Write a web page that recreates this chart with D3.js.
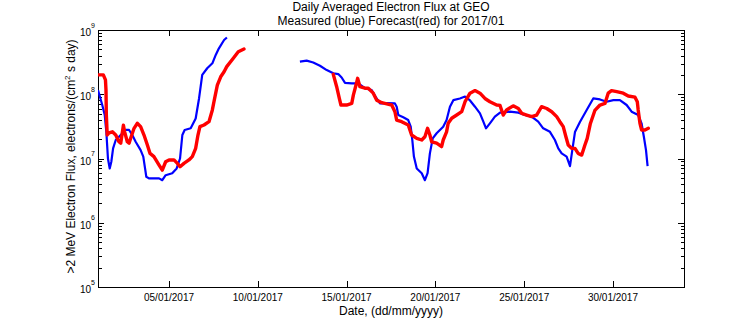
<!DOCTYPE html>
<html><head><meta charset="utf-8">
<script src="https://cdn.jsdelivr.net/npm/d3@7"></script>
<style>
html,body{margin:0;padding:0;background:#fff;}
svg{display:block;}
text{font-family:"Liberation Sans",Arial,Helvetica,sans-serif;fill:#000;}
</style></head><body>
<svg id="chart" width="756" height="324"></svg>
<script>
const titleLines = ["Daily Averaged Electron Flux at GEO", "Measured (blue) Forecast(red) for 2017/01"];
const xLabel = "Date, (dd/mm/yyyy)";
const yLabelMain = ">2 MeV Electron Flux, electrons/(cm";
const yLabelSup = "2";
const yLabelTail = " s day)";
const xTickDays = [5, 10, 15, 20, 25, 30];
const xTickLabels = ["05/01/2017", "10/01/2017", "15/01/2017", "20/01/2017", "25/01/2017", "30/01/2017"];
const yDecadeExps = [5, 6, 7, 8, 9];

// measured (blue): day of January 2017 (fractional) and flux; null = no data
const blueDay = [1.00,1.24,1.38,1.47,1.56,1.66,1.75,1.85,2.00,2.28,2.56,2.75,2.93,3.12,3.40,3.55,3.65,3.72,3.87,4.44,4.62,4.81,5.18,5.43,5.62,5.75,5.88,6.22,6.50,6.69,6.87,7.15,7.44,7.63,7.81,8.10,8.26,
  10.0,
  12.37,12.75,13.12,13.50,13.88,14.25,14.53,14.72,14.91,15.29,15.66,16.03,16.41,16.69,16.88,17.26,17.72,17.82,17.91,18.19,18.47,18.61,18.70,18.79,18.95,19.23,19.41,19.56,19.69,19.85,20.07,20.44,20.63,20.82,21.01,21.38,21.67,21.95,22.23,22.51,22.70,22.85,23.07,23.35,23.64,24.20,24.67,25.04,25.42,25.79,26.07,26.45,26.73,26.92,27.11,27.39,27.58,27.71,27.86,28.14,28.52,28.89,29.27,29.64,30.02,30.39,30.77,31.05,31.42,31.61,31.74,31.86,31.95];
const blueFlux = [1.16e8,6.8e7,4.75e7,2.6e7,1.0e7,7.0e6,8.9e6,1.44e7,1.94e7,2.32e7,2.78e7,2.78e7,2.32e7,1.82e7,1.35e7,1.07e7,7.0e6,5.2e6,4.9e6,4.9e6,4.6e6,5.5e6,5.9e6,7.0e6,1.0e7,2.32e7,2.78e7,2.95e7,4.2e7,8.6e7,2.0e8,2.54e8,3.03e8,4.09e8,5.19e8,6.98e8,7.65e8,
  null,
  3.21e8,3.33e8,3.12e8,2.78e8,2.38e8,2.12e8,2.06e8,1.82e8,1.50e8,1.48e8,1.48e8,1.24e8,1.16e8,8.6e7,7.2e7,7.3e7,7.2e7,6.4e7,4.75e7,4.38e7,3.97e7,3.13e7,1.94e7,1.07e7,7.0e6,5.9e6,4.6e6,5.9e6,1.2e7,2.06e7,2.47e7,3.13e7,3.97e7,6.4e7,8.1e7,8.6e7,9.2e7,8.0e7,6.4e7,5.05e7,3.74e7,2.95e7,3.53e7,4.48e7,5.17e7,5.35e7,5.17e7,4.75e7,4.48e7,3.74e7,2.95e7,2.6e7,1.94e7,1.44e7,1.2e7,1.07e7,7.6e6,1.35e7,2.58e7,3.7e7,5.7e7,8.6e7,8.3e7,7.65e7,8.1e7,8.1e7,6.8e7,5.35e7,4.75e7,3.53e7,2.18e7,1.35e7,7.6e6];

// forecast (red)
const redDay = [1.00,1.30,1.42,1.45,1.47,1.52,1.62,1.81,2.00,2.18,2.28,2.43,2.50,2.65,2.75,2.84,3.03,3.21,3.40,3.59,3.78,3.93,4.15,4.44,4.62,4.81,5.00,5.28,5.47,5.62,5.84,6.12,6.31,6.50,6.63,6.74,6.97,7.25,7.44,7.53,7.72,7.91,8.10,8.25,8.62,8.90,9.22,
  12.0,
  14.25,14.44,14.59,14.68,15.00,15.29,15.38,15.53,15.62,15.75,16.03,16.22,16.50,16.69,16.98,17.26,17.54,17.72,17.82,18.10,18.47,18.66,18.95,19.23,19.41,19.56,19.69,19.79,20.07,20.35,20.44,20.63,20.72,20.92,21.20,21.48,21.67,21.95,22.23,22.51,22.79,23.07,23.45,23.64,23.82,24.01,24.38,24.67,24.86,25.14,25.42,25.70,25.98,26.27,26.55,26.83,27.01,27.20,27.35,27.48,27.67,27.86,28.04,28.24,28.42,28.55,28.72,28.98,29.27,29.55,29.73,29.92,30.21,30.58,30.86,31.24,31.37,31.42,31.52,31.61,31.80,31.99];
const redFlux = [2.0e8,2.0e8,1.67e8,1.16e8,4.75e7,2.32e7,2.5e7,2.6e7,2.32e7,1.82e7,1.73e7,3.3e7,2.6e7,1.82e7,1.73e7,2.06e7,2.95e7,3.53e7,3.13e7,2.32e7,1.62e7,1.2e7,1.07e7,7.9e6,6.6e6,8.9e6,9.5e6,9.5e6,8.4e6,7.45e6,8.4e6,9.5e6,1.07e7,1.44e7,2.32e7,3.13e7,3.32e7,3.74e7,5.7e7,7.65e7,1.39e8,1.87e8,2.24e8,2.69e8,3.63e8,4.6e8,5.06e8,
  null,
  2.04e8,1.31e8,8.6e7,6.8e7,6.8e7,7.2e7,9.7e7,1.39e8,1.77e8,1.31e8,1.24e8,1.24e8,1.04e8,8.1e7,7.4e7,7.1e7,6.8e7,5.35e7,3.97e7,3.74e7,3.32e7,2.32e7,2.06e7,1.94e7,2.18e7,2.95e7,2.32e7,1.82e7,1.73e7,1.53e7,1.94e7,2.6e7,3.53e7,4.23e7,4.75e7,5.35e7,7.65e7,1.04e8,1.14e8,1.04e8,8.6e7,7.65e7,6.8e7,6.7e7,4.75e7,5.7e7,6.6e7,6.0e7,5.05e7,4.75e7,4.48e7,4.75e7,6.4e7,6.0e7,5.35e7,4.48e7,3.74e7,3.13e7,2.18e7,1.62e7,1.44e7,1.44e7,1.2e7,1.13e7,1.62e7,2.06e7,3.44e7,5.6e7,6.8e7,7.2e7,1.04e8,1.14e8,1.1e8,1.04e8,9.4e7,9.0e7,7.65e7,5.7e7,3.53e7,2.78e7,2.78e7,2.95e7];

const W = 756, H = 324;
const L = 98, R = 684, T = 30, B = 287;
const t0 = new Date(2017, 0, 1);
const dayToDate = d => new Date(t0.getTime() + (d - 1) * 864e5);

const x = d3.scaleTime().domain([t0, new Date(2017, 1, 3)]).range([L, R]);
const y = d3.scaleLog().domain([1e5, 1e9]).range([B, T]);

const svg = d3.select("#chart");
svg.append("rect").attr("width", W).attr("height", H).attr("fill", "#fff");

const majorY = yDecadeExps.map(e => Math.pow(10, e));
const minorY = [];
yDecadeExps.slice(0, -1).forEach(e => { for (let k = 2; k <= 9; k++) minorY.push(k * Math.pow(10, e)); });
const xTickDates = xTickDays.map(dayToDate);

function styleAxis(g) {
  g.select(".domain").remove();
  g.selectAll(".tick line").attr("stroke", "#000").attr("stroke-width", 1).attr("shape-rendering", "crispEdges");
  g.selectAll(".tick text").remove();
}
svg.append("g").attr("transform", `translate(0,${B})`)
  .call(d3.axisBottom(x).tickValues(xTickDates).tickSize(-6).tickFormat("")).call(styleAxis);
svg.append("g").attr("transform", `translate(0,${T})`)
  .call(d3.axisTop(x).tickValues(xTickDates).tickSize(-6).tickFormat("")).call(styleAxis);
svg.append("g").attr("transform", `translate(${L},0)`)
  .call(d3.axisLeft(y).tickValues(majorY).tickSize(-6).tickFormat("")).call(styleAxis);
svg.append("g").attr("transform", `translate(${L},0)`)
  .call(d3.axisLeft(y).tickValues(minorY).tickSize(-3.5).tickFormat("")).call(styleAxis);
svg.append("g").attr("transform", `translate(${R},0)`)
  .call(d3.axisRight(y).tickValues(majorY).tickSize(-6).tickFormat("")).call(styleAxis);
svg.append("g").attr("transform", `translate(${R},0)`)
  .call(d3.axisRight(y).tickValues(minorY).tickSize(-3.5).tickFormat("")).call(styleAxis);

svg.append("rect").attr("x", L + 0.5).attr("y", T + 0.5).attr("width", R - L).attr("height", B - T)
  .attr("fill", "none").attr("stroke", "#000").attr("stroke-width", 1);

svg.selectAll(".xlab").data(xTickDates).enter().append("text")
  .attr("x", d => x(d)).attr("y", 300.5).attr("text-anchor", "middle").attr("font-size", 10)
  .text((d, i) => xTickLabels[i]);

const ylab = svg.selectAll(".ylab").data(yDecadeExps).enter().append("text")
  .attr("x", 95).attr("y", e => y(Math.pow(10, e)) + 6).attr("text-anchor", "end").attr("font-size", 10);
ylab.append("tspan").text("10");
ylab.append("tspan").attr("font-size", 7).attr("dy", -8.5).text(e => e);

svg.append("clipPath").attr("id", "clip").append("rect")
  .attr("x", L).attr("y", T).attr("width", R - L).attr("height", B - T);
const line = d3.line().defined(d => d[1] != null).x(d => x(dayToDate(d[0]))).y(d => y(d[1]));
const plot = svg.append("g").attr("clip-path", "url(#clip)");
plot.append("path").datum(d3.zip(blueDay, blueFlux)).attr("d", line)
  .attr("fill", "none").attr("stroke", "#0000ff").attr("stroke-width", 2.2).attr("stroke-linejoin", "round");
plot.append("path").datum(d3.zip(redDay, redFlux)).attr("d", line)
  .attr("fill", "none").attr("stroke", "#ff0000").attr("stroke-width", 3.4).attr("stroke-linejoin", "round").attr("stroke-linecap", "round");

const cx = (L + R) / 2;
svg.append("text").attr("x", cx).attr("y", 11).attr("text-anchor", "middle").attr("font-size", 12).text(titleLines[0]);
svg.append("text").attr("x", cx).attr("y", 24.5).attr("text-anchor", "middle").attr("font-size", 12).text(titleLines[1]);
svg.append("text").attr("x", cx).attr("y", 315).attr("text-anchor", "middle").attr("font-size", 12).text(xLabel);
const yl = svg.append("text").attr("transform", `translate(75,${(T + B) / 2 - 2}) rotate(-90)`)
  .attr("text-anchor", "middle").attr("font-size", 12);
yl.append("tspan").text(yLabelMain);
yl.append("tspan").attr("font-size", 8).attr("dy", -5).text(yLabelSup);
yl.append("tspan").attr("dy", 5).text(yLabelTail);
</script>
</body></html>
